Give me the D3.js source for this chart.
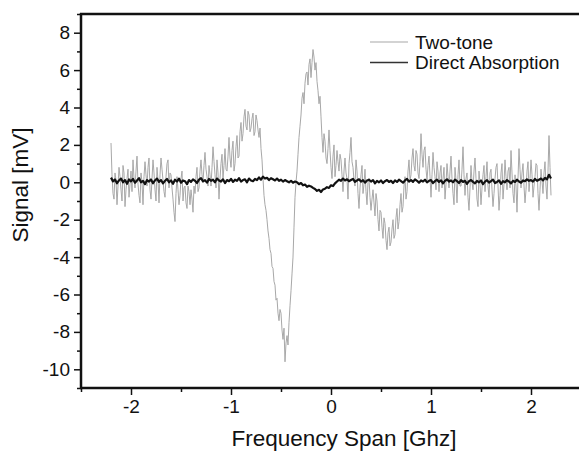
<!DOCTYPE html>
<html>
<head>
<meta charset="utf-8">
<script src="https://cdn.jsdelivr.net/npm/d3@7/dist/d3.min.js"></script>
<style>
  html, body { margin: 0; padding: 0; background: #fff; }
  svg { display: block; font-family: Arial, "Liberation Sans", Helvetica, sans-serif; }
</style>
</head>
<body>
<svg id="chart" width="579" height="451"></svg>
<script>
// ---- data ----
const freqStart = -2.2;   // GHz, first sample
const freqEnd = 2.2;      // GHz, last sample

const twoTone = [
  2.1, 0.4, -0.6, -0.9, 0.5, 0.1, -1.2, -0.2, 0.8, 0.3, -0.4, -1.0, 0.9, 0.5, -1.3, -0.4, 0.2, 0.7, -0.8, -0.1,
  0.6, -0.5, 1.2, 0.2, -0.3, 0.6, 1.4, -0.1, -0.7, -1.1, 0.5, 0.0, -1.2, 0.3, 1.1, 0.4, -0.2, 0.8, 1.3, -0.4,
  -0.9, 0.2, 1.2, 0.5, -0.4, -1.0, 0.8, 0.1, -1.1, 0.4, 1.3, 0.7, 0.1, -0.5, -0.8, 0.3, 1.0, 1.2, -0.3, 0.5,
  0.4, -0.3, -0.9, -1.6, -2.1, -0.6, 0.3, -0.4, -1.2, -0.7, 0.2, 0.6, -1.0, -0.3, -0.2, -1.1, -1.4, -0.2, -0.5, -1.2,
  -0.4, -0.9, -1.6, -0.2, -0.6, 0.3, 0.8, -0.5, -0.3, 0.6, 1.2, 0.4, 0.0, 0.9, 1.6, 0.7, 0.3, -0.2, 0.9, 0.4,
  -0.2, 0.8, 1.9, 1.1, 0.4, -0.3, 1.2, 0.5, -0.9, 0.2, 1.0, 1.5, 0.2, 0.9, 1.8, 0.7, 0.6, 1.4, 2.4, 1.3,
  0.8, 1.7, 2.2, 0.6, 1.0, 1.9, 2.5, 1.3, 1.4, 2.7, 3.2, 2.2, 2.6, 3.5, 3.9, 3.0, 2.8, 3.8, 3.6, 2.7,
  2.9, 3.4, 3.7, 2.5, 2.7, 3.6, 3.3, 2.8, 2.4, 2.9,
  1.8, 1.2, 0.2, -0.7, -1.2, -1.5, -2.0, -2.6, -3.0, -3.6, -3.8, -4.5, -4.6, -5.3, -5.5, -6.3, -6.2, -7.0, -7.4, -6.8,
  -7.0, -7.9, -8.4, -7.8, -9.6, -8.6, -8.2, -8.7, -7.5, -6.6, -5.8, -4.9, -4.0, -2.4, -0.8, 0.0, 0.6, 1.5, 2.4, 3.0,
  3.6, 4.5, 4.8, 4.2, 5.3, 5.8, 5.9, 5.2, 6.3, 6.6, 5.6, 6.4, 7.1, 6.7, 6.0, 6.4, 5.4, 4.9, 4.2, 4.6,
  3.5, 2.4, 1.6, 2.6, 2.2, 1.3, 1.0, 1.8, 2.8, 1.7, 0.8, 0.2, 1.4, 2.0, 0.3, 0.9, 1.7, 1.1, 0.6, 1.5,
  1.2, 0.4, -0.5, 0.6, 1.3, 0.5, 0.2, -0.9, 1.0, 1.6, 2.4, 1.1, 0.8, 0.1, -0.2, 1.2, 0.6, -0.6, -1.4, -0.3,
  0.4, 0.9, -0.6, -0.1, 0.7, -0.5, -1.2, 0.0, 0.2, -0.8, -1.5, -0.9, -0.4, -1.1, -1.8, -0.6, -1.0, -2.0, -2.6, -1.5,
  -1.6, -2.4, -3.0, -1.9, -2.2, -3.1, -3.6, -2.7, -2.4, -3.4, -3.2, -2.5, -2.0, -3.0, -2.8, -1.9, -1.4, -2.5, -2.1, -1.2,
  -0.6, -1.6, -1.3, -0.2, 0.3, -0.9, -0.5, 0.6, 1.2, 0.1, 0.4, 1.3, 1.8, 0.9, 0.6, 1.7, 1.5, 0.5, 0.2, 1.1,
  2.6, 1.5, 0.8, 1.7, 1.9, 0.7, 0.1, 0.9, 1.4, 0.3, -0.8, 0.4, 1.6, 0.8, 0.3, -0.4, 1.1, 0.6, -0.5, 0.5,
  0.9, -0.3, 0.2, 0.8, -0.9, -0.1, 1.0, 0.3, -0.3, 0.6, 1.4, 0.2, -0.6, -1.2, 0.8, 0.1, -1.1, 0.4, 1.2, -0.2,
  -0.2, 0.7, 1.9, 0.4, -0.7, 0.2, 0.5, -0.8, -1.5, -0.3, 0.9, 0.0, -0.4, 0.6, 1.3, 0.2, -0.9, -1.3, 0.6, -0.1,
  -1.2, -0.3, 0.4, 0.9, -0.5, 0.3, 1.1, -0.2, -0.8, 0.5, 0.7, -0.4, -1.3, -0.6, 0.2, 0.8, 1.0, -0.2, -1.5, -0.7,
  0.5, 1.0, -0.9, -0.1, 1.2, 0.3, -0.4, 0.6, 0.8, -0.3, 1.7, 0.5, -0.6, -1.1, 0.4, -0.2, -1.6, 0.2, 1.8, 0.7,
  -0.3, 0.5, 1.0, -0.2, -1.1, -0.4, 0.6, 1.1, -0.5, 0.2, 1.2, 0.4, -0.8, -0.2, 0.3, 1.0, 0.9, -0.6, -1.5, -0.4,
  0.7, 0.1, -0.6, 0.5, 1.1, -0.2, -0.9, 0.6, 2.5, 0.8, -0.7
];

const directAbsorption = [
  0.25, 0.05, 0.15, -0.05, 0.10, 0.20, 0.00, 0.12, -0.08, 0.15,
  0.05, 0.18, -0.02, 0.10, 0.22, 0.00, 0.08, -0.10, 0.12, 0.04,
  0.15, -0.05, 0.10, 0.20, 0.02, 0.12, -0.06, 0.08, 0.18, 0.00,
  0.10, -0.08, 0.14, 0.04, 0.20, -0.02, 0.10, 0.06, -0.10, 0.12,
  0.02, 0.16, 0.08, -0.04, 0.14, 0.22, 0.05, 0.12, -0.02, 0.18,
  0.08, 0.14, 0.00, 0.20, 0.10, 0.04, 0.16, -0.04, 0.12, 0.06,
  0.18, 0.02, 0.14, 0.08, 0.22, 0.04, 0.12, 0.16, 0.00, 0.20,
  0.10, 0.06, 0.18, 0.12, 0.26, 0.14, 0.30, 0.20, 0.24, 0.12,
  0.22, 0.16, 0.10, 0.20, 0.08, 0.14, 0.04, 0.12, 0.06, 0.00,
  0.08, -0.02, 0.04, 0.00, -0.10, -0.04, -0.16, -0.12, -0.24, -0.18,
  -0.22, -0.30, -0.36, -0.46, -0.40, -0.52, -0.38, -0.34, -0.26, -0.30,
  -0.16, -0.20, -0.06, 0.04, 0.14, 0.08, 0.20, 0.10, 0.16, 0.06,
  0.12, 0.18, 0.02, 0.10, 0.16, 0.04, 0.12, -0.02, 0.10, 0.14,
  0.04, 0.12, -0.06, 0.08, 0.00, 0.10, -0.04, 0.06, 0.12, 0.02,
  0.08, -0.04, 0.10, 0.02, 0.14, 0.06, -0.02, 0.10, 0.18, 0.04,
  0.12, 0.02, 0.16, 0.08, -0.02, 0.10, 0.04, 0.14, 0.00, 0.08,
  0.12, -0.04, 0.06, 0.14, 0.02, 0.10, -0.06, 0.08, 0.16, 0.04,
  0.10, 0.00, 0.14, 0.06, -0.04, 0.12, 0.02, 0.08, -0.08, 0.06,
  0.12, 0.02, -0.06, 0.08, 0.00, 0.10, -0.10, 0.04, 0.12, -0.02,
  0.06, 0.14, -0.04, 0.02, 0.10, -0.08, 0.06, 0.00, 0.12, 0.04,
  -0.06, 0.08, 0.02, 0.14, 0.04, -0.02, 0.10, 0.06, 0.16, 0.08,
  0.12, 0.04, 0.18, 0.08, 0.14, 0.20, 0.10, 0.24, 0.16, 0.40,
  0.20
];

const xMajorTicks = [-2, -1, 0, 1, 2];
const xMinorTicks = [-2.5, -1.5, -0.5, 0.5, 1.5, 2.5];
const yMajorTicks = [-10, -8, -6, -4, -2, 0, 2, 4, 6, 8];
const yMinorTicks = [-11, -9, -7, -5, -3, -1, 1, 3, 5, 7, 9];
const seriesNames = ["Two-tone", "Direct Absorption"];
const xTitle = "Frequency Span [Ghz]";
const yTitle = "Signal [mV]";

// ---- layout ----
const svg = d3.select("#chart");
const plotLeft = 81, plotRight = 581, plotTop = 14, plotBottom = 388;
const x = d3.scaleLinear().domain([-2.5, 2.5]).range([plotLeft, plotRight]);
const y = d3.scaleLinear().domain([-11, 9]).range([plotBottom, plotTop]);

const lineFor = arr => {
  const step = (freqEnd - freqStart) / (arr.length - 1);
  return d3.line().x((d, i) => x(freqStart + i * step)).y(d => y(d))(arr);
};

// ---- series ----
svg.append("path")
  .attr("d", lineFor(twoTone))
  .attr("fill", "none")
  .attr("stroke", "#a8a8a8")
  .attr("stroke-width", 1)
  .attr("stroke-linejoin", "round");

svg.append("path")
  .attr("d", lineFor(directAbsorption))
  .attr("fill", "none")
  .attr("stroke", "#111")
  .attr("stroke-width", 2.2)
  .attr("stroke-linejoin", "round");

// ---- axes ----
const axisColor = "#111";
const tickFont = 19;

const gx = svg.append("g").attr("transform", `translate(0,${plotBottom})`)
  .call(d3.axisBottom(x).tickValues(xMajorTicks).tickSize(7).tickPadding(5));
const gxm = svg.append("g").attr("transform", `translate(0,${plotBottom})`)
  .call(d3.axisBottom(x).tickValues(xMinorTicks).tickSize(4).tickFormat(""));
const gy = svg.append("g").attr("transform", `translate(${plotLeft},0)`)
  .call(d3.axisLeft(y).tickValues(yMajorTicks).tickSize(7).tickPadding(4));
const gym = svg.append("g").attr("transform", `translate(${plotLeft},0)`)
  .call(d3.axisLeft(y).tickValues(yMinorTicks).tickSize(4).tickFormat(""));

[gx, gxm, gy, gym].forEach(g => {
  g.select(".domain").remove();
  g.selectAll(".tick line").attr("stroke", axisColor).attr("stroke-width", 1.5);
  g.selectAll(".tick text")
    .attr("fill", "#111")
    .style("font-size", tickFont + "px")
    .style("font-family", "Arial, 'Liberation Sans', sans-serif");
});
gy.selectAll(".tick text").text(d => d < 0 ? "-" + Math.abs(d) : d);
gx.selectAll(".tick text").text(d => d < 0 ? "-" + Math.abs(d) : d);

// frame lines (left, bottom, top)
svg.append("line").attr("x1", plotLeft).attr("x2", plotLeft).attr("y1", plotTop - 1).attr("y2", plotBottom + 1)
  .attr("stroke", axisColor).attr("stroke-width", 2.5);
svg.append("line").attr("x1", plotLeft - 1).attr("x2", 579).attr("y1", plotBottom).attr("y2", plotBottom)
  .attr("stroke", axisColor).attr("stroke-width", 2.5);
svg.append("line").attr("x1", plotLeft - 1).attr("x2", 579).attr("y1", plotTop).attr("y2", plotTop)
  .attr("stroke", axisColor).attr("stroke-width", 2.5);

// ---- titles ----
svg.append("text")
  .attr("x", 344).attr("y", 446)
  .attr("text-anchor", "middle")
  .attr("fill", "#111")
  .style("font-size", "22.5px")
  .text(xTitle);

svg.append("text")
  .attr("transform", "translate(28,185) rotate(-90)")
  .attr("text-anchor", "middle")
  .attr("fill", "#111")
  .style("font-size", "22.5px")
  .text(yTitle);

// ---- legend ----
const legendColors = ["#a8a8a8", "#333"];
const legendWidths = [1.1, 1.3];
seriesNames.forEach((name, i) => {
  const ly = 42 + i * 20.5;
  svg.append("line")
    .attr("x1", 370).attr("x2", 408).attr("y1", ly).attr("y2", ly)
    .attr("stroke", legendColors[i]).attr("stroke-width", legendWidths[i]);
  svg.append("text")
    .attr("x", 415).attr("y", ly + 6.5)
    .attr("fill", "#111")
    .style("font-size", "19px")
    .text(name);
});
</script>
</body>
</html>
